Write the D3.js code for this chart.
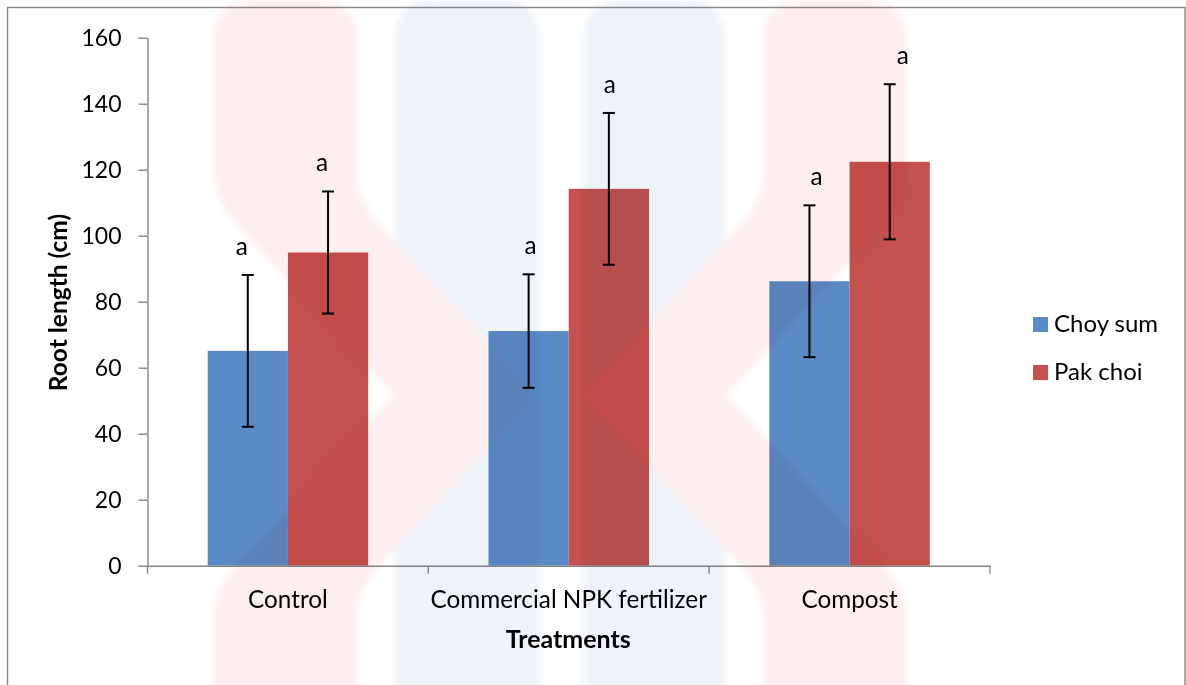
<!DOCTYPE html>
<html>
<head>
<meta charset="utf-8">
<script src="https://cdn.jsdelivr.net/npm/d3@7"></script>
<style>
  html, body { margin: 0; padding: 0; background: #fff; }
  svg { display: block; }
  text { font-family: Lato, "Open Sans", sans-serif; fill: #000; }
</style>
</head>
<body>
<script>
// ---- data ----
const treatments = ["Control", "Commercial NPK fertilizer", "Compost"];
const seriesNames = ["Choy sum", "Pak choi"];
const choySum = [65.1, 71.1, 86.2];
const choySumErr = [23.0, 17.2, 23.0];
const pakChoi = [94.9, 114.2, 122.4];
const pakChoiErr = [18.5, 23.0, 23.5];
const choySumLetters = ["a", "a", "a"];
const pakChoiLetters = ["a", "a", "a"];
const yTicks = [0, 20, 40, 60, 80, 100, 120, 140, 160];

// ---- styling / layout ----
const seriesColors = ["#5b8bc6", "#c4514e"];
const letterNudge = [[-6, 2, 7], [-6, 1, 13]];   // hand-placed significance letters
const W = 1186, H = 685;
const plot = { left: 147.5, right: 990, top: 37.7, bottom: 565.7 };
const axisColor = "#868686";
const tickFont = 23, labelFont = 24.3, titleFont = 25;

const series = [
  { name: seriesNames[0], values: choySum, errors: choySumErr, letters: choySumLetters },
  { name: seriesNames[1], values: pakChoi, errors: pakChoiErr, letters: pakChoiLetters }
];

const svg = d3.select("body").append("svg")
  .attr("width", W).attr("height", H);

svg.append("rect").attr("width", W).attr("height", H).attr("fill", "#fff");

// ---- scales ----
const y = d3.scaleLinear().domain([0, 160]).range([plot.bottom, plot.top]);
const x0 = d3.scaleBand().domain(treatments).range([plot.left, plot.right]);
const x1 = d3.scaleBand().domain(seriesNames)
  .range([0, x0.bandwidth()]).paddingInner(0).paddingOuter(0.75);

// ---- bars ----
const groups = svg.append("g").selectAll("g")
  .data(series).join("g")
  .attr("fill", (d, i) => seriesColors[i]);

groups.selectAll("rect")
  .data(d => d.values.map((v, i) => ({ s: d.name, t: treatments[i], v })))
  .join("rect")
  .attr("x", d => x0(d.t) + x1(d.s))
  .attr("y", d => y(d.v))
  .attr("width", x1.bandwidth())
  .attr("height", d => y(0) - y(d.v));

// ---- axes ----
const yAxis = svg.append("g")
  .attr("transform", `translate(${plot.left},0)`)
  .call(d3.axisLeft(y).tickValues(yTicks).tickSize(9).tickPadding(17).tickSizeOuter(0));
yAxis.select(".domain").attr("stroke", axisColor).attr("stroke-width", 1.4);
yAxis.selectAll(".tick line").attr("stroke", axisColor).attr("stroke-width", 1.4);
yAxis.selectAll(".tick text")
  .attr("font-family", "Lato, 'Open Sans', sans-serif")
  .attr("font-size", tickFont).attr("fill", "#000");

const xAxis = svg.append("g")
  .attr("transform", `translate(0,${plot.bottom})`)
  .call(d3.axisBottom(x0).tickSize(0).tickPadding(25).tickSizeOuter(0));
xAxis.select(".domain").attr("stroke", axisColor).attr("stroke-width", 1.4);
xAxis.selectAll(".tick text")
  .attr("font-family", "Lato, 'Open Sans', sans-serif")
  .attr("font-size", labelFont).attr("fill", "#000");

// category dividers on the x axis
const dividers = treatments.map(t => x0(t)).concat([x0(treatments[treatments.length - 1]) + x0.step()]);
xAxis.selectAll("line.divider")
  .data(dividers).join("line")
  .attr("class", "divider")
  .attr("x1", d => d).attr("x2", d => d)
  .attr("y1", 0).attr("y2", 8)
  .attr("stroke", axisColor).attr("stroke-width", 1.4);

// ---- error bars ----
const errG = svg.append("g").attr("stroke", "#000").attr("stroke-width", 2);
series.forEach((s) => {
  s.values.forEach((v, i) => {
    const cx = x0(treatments[i]) + x1(s.name) + x1.bandwidth() / 2;
    const hi = y(v + s.errors[i]), lo = y(v - s.errors[i]);
    errG.append("line").attr("x1", cx).attr("x2", cx).attr("y1", hi).attr("y2", lo);
    errG.append("line").attr("x1", cx - 6).attr("x2", cx + 6).attr("y1", hi).attr("y2", hi);
    errG.append("line").attr("x1", cx - 6).attr("x2", cx + 6).attr("y1", lo).attr("y2", lo);
  });
});

// ---- significance letters ----
series.forEach((s, si) => {
  svg.append("g").selectAll("text")
    .data(s.values.map((v, i) => ({ v, e: s.errors[i], t: treatments[i], l: s.letters[i], i })))
    .join("text")
    .attr("x", d => x0(d.t) + x1(s.name) + x1.bandwidth() / 2 + letterNudge[si][d.i])
    .attr("y", d => y(d.v + d.e) - 20)
    .attr("text-anchor", "middle")
    .attr("font-size", labelFont)
    .text(d => d.l);
});

// ---- axis titles ----
svg.append("text")
  .attr("x", (plot.left + plot.right) / 2 - 0.5)
  .attr("y", 648)
  .attr("text-anchor", "middle")
  .attr("font-size", titleFont).attr("font-weight", "bold")
  .text("Treatments");

svg.append("text")
  .attr("transform", `translate(67,${(plot.top + plot.bottom) / 2 + 0.8}) rotate(-90)`)
  .attr("text-anchor", "middle")
  .attr("font-size", 24.5).attr("font-weight", "bold")
  .text("Root length (cm)");

// ---- legend ----
const legend = svg.append("g").attr("transform", "translate(1033,317)");
const li = legend.selectAll("g").data(seriesNames).join("g")
  .attr("transform", (d, i) => `translate(0,${i * 48})`);
li.append("rect").attr("width", 15).attr("height", 15)
  .attr("fill", (d, i) => seriesColors[i]);
li.append("text").attr("x", 21).attr("y", 15)
  .attr("font-size", 24).text(d => d);

// ---- faint backdrop emblem, blended over the chart ----
const defs = svg.append("defs");
defs.append("filter").attr("id", "soft")
  .attr("x", "-5%").attr("y", "-5%").attr("width", "110%").attr("height", "110%")
  .append("feGaussianBlur").attr("stdDeviation", 3);

const deco = svg.append("g")
  .style("mix-blend-mode", "multiply")
  .attr("filter", "url(#soft)")
  .attr("pointer-events", "none");
function column(xl, xr) {
  const p = d3.path();
  p.moveTo(xl, H + 20); p.lineTo(xl, 40); p.quadraticCurveTo(xl, 0, xl + 40, 0);
  p.lineTo(xr - 40, 0); p.quadraticCurveTo(xr, 0, xr, 40); p.lineTo(xr, H + 20); p.closePath();
  return p.toString();
}
function chevron(xl, xr, dir) {
  // dir = +1 points right, -1 points left
  const p = d3.path();
  const reach = 180, mid = 395;
  const inner = dir > 0 ? xl : xr, outer = dir > 0 ? xr : xl;
  p.moveTo(inner, H + 20); p.lineTo(inner, 620);
  p.quadraticCurveTo(inner, 590, inner + dir * 25, 563);
  p.lineTo(inner + dir * reach, mid);
  p.lineTo(inner + dir * 25, 227);
  p.quadraticCurveTo(inner, 200, inner, 170);
  p.lineTo(inner, 40);
  p.quadraticCurveTo(inner, 0, inner + dir * 40, 0);
  p.lineTo(outer - dir * 40, 0); p.quadraticCurveTo(outer, 0, outer, 40);
  p.lineTo(outer, 170);
  p.quadraticCurveTo(outer, 200, outer + dir * 25, 227);
  p.lineTo(outer + dir * reach, mid);
  p.lineTo(outer + dir * 25, 563);
  p.quadraticCurveTo(outer, 590, outer, 620);
  p.lineTo(outer, H + 20); p.closePath();
  return p.toString();
}
deco.append("path").attr("d", column(395, 540)).attr("fill", "#eef3f8");
deco.append("path").attr("d", column(583, 725)).attr("fill", "#eef3f8");
deco.append("path").attr("d", chevron(213, 357, 1)).attr("fill", "#fdefef");
deco.append("path").attr("d", chevron(763, 907, -1)).attr("fill", "#fdefef");

// ---- outer frame ----
svg.append("rect")
  .attr("x", 7.5).attr("y", 7.5).attr("width", W - 8.5).attr("height", H + 20)
  .attr("fill", "none").attr("stroke", axisColor).attr("stroke-width", 1.4);
</script>
</body>
</html>
